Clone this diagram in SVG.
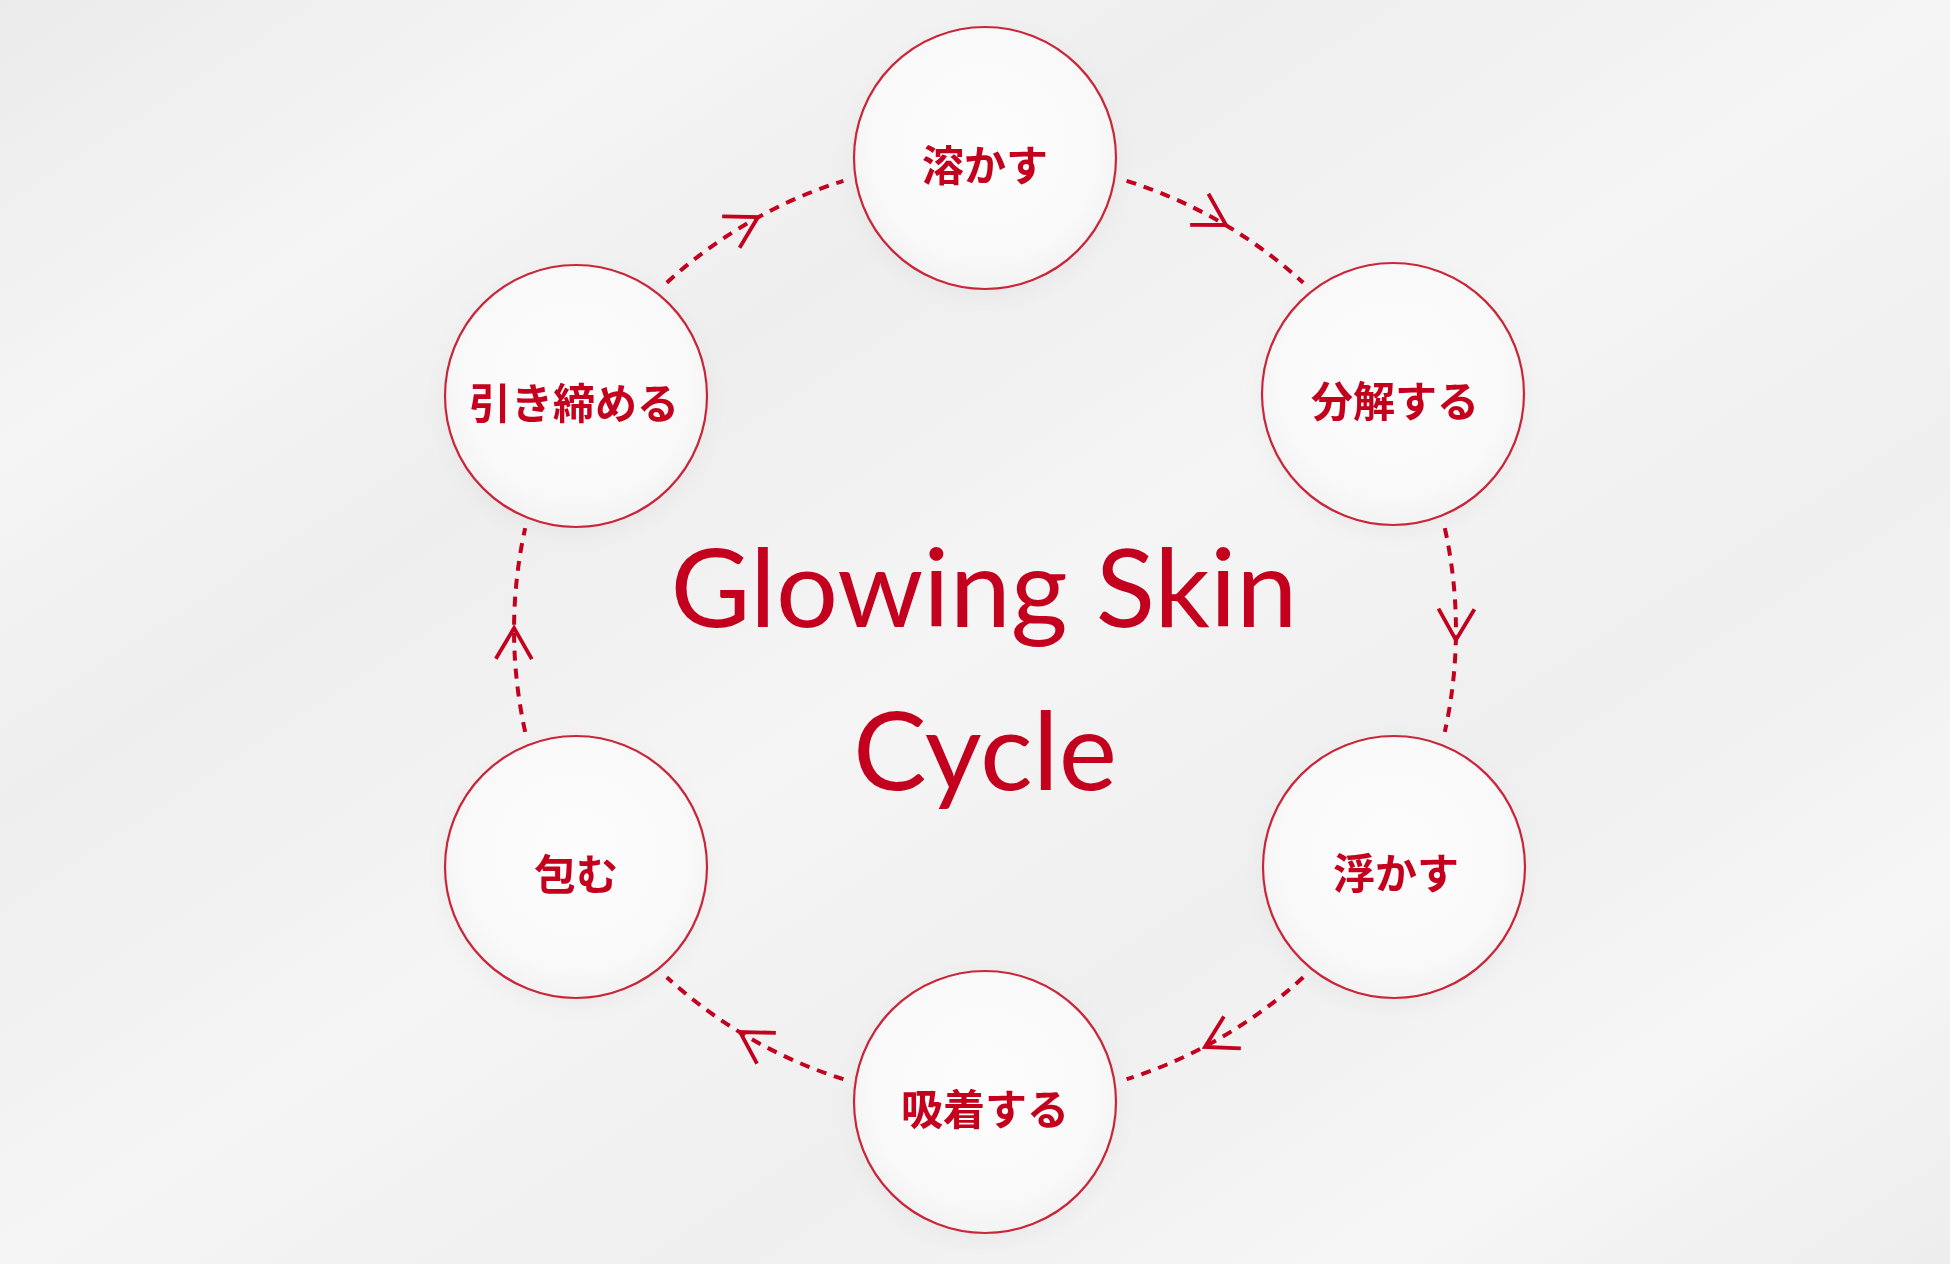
<svg xmlns="http://www.w3.org/2000/svg" xmlns:xlink="http://www.w3.org/1999/xlink" width="1950" height="1264" viewBox="0 0 1950 1264">
  <style>
    .node-circle { fill: url(#nodeFill); stroke: #c9283a; stroke-width: 2.2; }
    .label { font-family: "Noto Sans CJK JP", "Noto Sans", sans-serif; font-weight: 700; font-size: 42px; fill: #c4001f; text-anchor: middle; dominant-baseline: central; }
    .title { font-family: "Lato", "Open Sans", "Liberation Sans", sans-serif; font-weight: 400; font-size: 108px; fill: #c4001f; text-anchor: middle; }
    .arc { fill: none; stroke: #c4001f; stroke-width: 4; stroke-dasharray: 10 8; }
    .chev { fill: none; stroke: #c4001f; stroke-width: 3.8; stroke-linecap: butt; stroke-linejoin: miter; }
  </style>
  <defs>
    <linearGradient id="bg" x1="0" y1="0" x2="1" y2="1">
      <stop offset="0" stop-color="#ebebeb"/>
      <stop offset="0.18" stop-color="#f5f5f5"/>
      <stop offset="0.32" stop-color="#eeeeee"/>
      <stop offset="0.5" stop-color="#f5f5f5"/>
      <stop offset="0.68" stop-color="#efefef"/>
      <stop offset="0.85" stop-color="#f6f6f6"/>
      <stop offset="1" stop-color="#ededed"/>
    </linearGradient>
    <radialGradient id="nodeFill" cx="0.5" cy="0.45" r="0.55">
      <stop offset="0" stop-color="#fdfdfd"/>
      <stop offset="0.8" stop-color="#f9f9f9"/>
      <stop offset="1" stop-color="#f3f3f3"/>
    </radialGradient>
    <filter id="shadow" x="-20%" y="-20%" width="140%" height="150%">
      <feDropShadow dx="0" dy="6" stdDeviation="10" flood-color="#000000" flood-opacity="0.035"/>
    </filter>
    <path id="chevron" d="M -31 -18 L 0 0 L -31 18"/>
  </defs>

  <rect x="0" y="0" width="1950" height="1264" fill="url(#bg)"/>

  <g id="connectors">
    <path class="arc" d="M 1126.6 180.8 A 471 471 0 0 1 1303.2 282.7"/>
    <path class="arc" d="M 1444.8 528.1 A 471 471 0 0 1 1444.8 731.9"/>
    <path class="arc" d="M 1303.2 977.3 A 471 471 0 0 1 1126.6 1079.2"/>
    <path class="arc" d="M 843.4 1079.2 A 471 471 0 0 1 666.8 977.3"/>
    <path class="arc" d="M 525.2 731.9 A 471 471 0 0 1 525.2 528.1"/>
    <path class="arc" d="M 666.8 282.7 A 471 471 0 0 1 843.4 180.8"/>
    <use xlink:href="#chevron" class="chev" transform="translate(1226 225) rotate(30.5)"/>
    <use xlink:href="#chevron" class="chev" transform="translate(1455.9 640) rotate(91)"/>
    <use xlink:href="#chevron" class="chev" transform="translate(1205 1047) rotate(152)"/>
    <use xlink:href="#chevron" class="chev" transform="translate(740 1032) rotate(211.5)"/>
    <use xlink:href="#chevron" class="chev" transform="translate(514.1 628) rotate(270.5)"/>
    <use xlink:href="#chevron" class="chev" transform="translate(758 217) rotate(331)"/>
  </g>

  <g id="title">
    <text class="title" x="984" y="627" textLength="627" lengthAdjust="spacingAndGlyphs">Glowing Skin</text>
    <text class="title" x="985" y="790" textLength="264" lengthAdjust="spacingAndGlyphs">Cycle</text>
  </g>

  <g id="node-tokasu" filter="url(#shadow)">
    <circle class="node-circle" cx="985" cy="158" r="131"/>
    <text class="label" x="985" y="162">溶かす</text>
  </g>
  <g id="node-bunkai" filter="url(#shadow)">
    <circle class="node-circle" cx="1393" cy="394" r="131"/>
    <text class="label" x="1395" y="398">分解する</text>
  </g>
  <g id="node-ukasu" filter="url(#shadow)">
    <circle class="node-circle" cx="1394" cy="867" r="131"/>
    <text class="label" x="1396" y="870">浮かす</text>
  </g>
  <g id="node-kyuchaku" filter="url(#shadow)">
    <circle class="node-circle" cx="985" cy="1102" r="131"/>
    <text class="label" x="985" y="1106">吸着する</text>
  </g>
  <g id="node-tsutsumu" filter="url(#shadow)">
    <circle class="node-circle" cx="576" cy="867" r="131"/>
    <text class="label" x="576" y="871">包む</text>
  </g>
  <g id="node-hikishimeru" filter="url(#shadow)">
    <circle class="node-circle" cx="576" cy="396" r="131"/>
    <text class="label" x="574" y="400">引き締める</text>
  </g>
</svg>
